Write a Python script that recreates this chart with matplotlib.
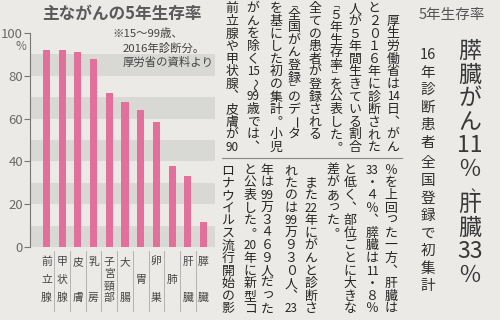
import matplotlib
matplotlib.use('Agg')
import matplotlib.pyplot as plt
import numpy as np
from matplotlib.transforms import blended_transform_factory

plt.rcParams['font.family'] = ['Noto Sans CJK JP', 'DejaVu Sans']

# ---- chart data ----
sites = ['前立腺', '甲状腺', '皮膚', '乳房', '子宮頸部', '大腸', '胃', '卵巣', '肺', '肝臓', '膵臓']
survival = [92.1, 91.9, 91.1, 88.0, 71.8, 67.8, 64.0, 58.3, 37.7, 33.4, 11.8]
yticks = [0, 20, 40, 60, 80, 100]
bands = [(0, 10), (20, 30), (40, 50), (60, 70), (80, 90)]
chart_title = '主ながんの5年生存率'
note_lines = ['※15～99歳、', '2016年診断分。', '厚労省の資料より']

# ---- article text (vertical columns, right to left) ----
kicker = '5年生存率'
headline = '膵臓がん11％、肝臓33％'
subhead = '16年診断患者 全国登録で初集計'
body_top = [
    '　厚生労働省は14日、がん',
    'と２０１６年に診断された',
    '人が５年間生きている割合',
    '「５年生存率」を公表した。',
    '全ての患者が登録される',
    '「全国がん登録」のデータ',
    'を基にした初の集計。小児',
    'がんを除く15～99歳では、',
    '前立腺や甲状腺、皮膚が90',
]
body_bottom = [
    '％を上回った一方、肝臓は',
    '33・４％、膵臓は11・８％',
    'と低く、部位ごとに大きな',
    '差があった。',
    '　また22年にがんと診断さ',
    'れたのは99万９３０人、23',
    '年は99万３４６９人だった',
    'と公表した。20年に新型コ',
    'ロナウイルス流行開始の影',
]

# layout (pixels)
top_x = [393, 374, 355, 336, 315, 294, 276, 253, 232]
bot_x = [391, 372, 350, 333, 311, 291, 267, 250, 228]

BG = '#ebeae7'
INK = '#252525'
SMALL = set('ぁぃぅぇぉっゃゅょァィゥェォッャュョ')
VERT = {'、': '\ufe11', '。': '\ufe12'}
BRACKETS = {'「': '\ufe41', '」': '\ufe42'}


def cells(s):
    out = []
    i = 0
    while i < len(s):
        if s[i].isascii() and s[i].isdigit():
            j = i
            while j < len(s) and s[j].isascii() and s[j].isdigit():
                j += 1
            out.append(s[i:j])
            i = j
        else:
            out.append(s[i])
            i += 1
    return out


def tate(ax, x, y0, s, size, pitch, color=INK, half_punct=False, tcy=0.9, **kw):
    y = y0
    for c in cells(s):
        if c == ' ':
            y += pitch * 0.2
            continue
        if c in BRACKETS:
            # brackets take half a cell
            step = pitch * 0.5
            ax.text(x, y + step / 2, BRACKETS[c], fontsize=size * 0.6, color=color,
                    ha='center', va='center', **kw)
            y += step
            continue
        step = pitch
        dx = dy = 0
        rot = 0
        fs = size
        if c in '、。' and half_punct:
            step = pitch * 0.5
            ax.text(x + pitch * 0.3, y + step * 0.55, '\u3001', fontsize=size * 0.55,
                    color=color, ha='center', va='center', **kw)
            y += step
            continue
        if c in SMALL:
            dx, dy = pitch * 0.08, -pitch * 0.08
        elif c in 'ー～':
            rot = -90
        elif len(c) > 1:
            fs = size * tcy
        ax.text(x + dx, y + step / 2 + dy, VERT.get(c, c), fontsize=fs, color=color,
                rotation=rot, ha='center', va='center', **kw)
        y += step


fig = plt.figure(figsize=(5, 3.2), dpi=100, facecolor=BG)

# ---- bar chart ----
ax = fig.add_axes([30 / 500, (320 - 247) / 320, 185 / 500, 214 / 320])
ax.set_facecolor('none')
x = np.arange(len(sites))
for lo, hi in bands:
    ax.axhspan(lo, hi, color='#d8d8d5', lw=0, zorder=0)
ax.bar(x, survival, width=0.45, color='#e3709a', zorder=2)
ax.set_xlim(-1.05, 10.73)
ax.set_ylim(0, 100)
ax.set_yticks(yticks)
ax.set_yticklabels([str(t) for t in yticks])
ax.tick_params(axis='y', length=4, width=0.8, color='#777777', labelcolor='#6a6a6a',
               labelsize=9.5, pad=1)
ax.set_xticks([])
for side in ['top', 'right', 'bottom']:
    ax.spines[side].set_visible(False)
ax.spines['left'].set_color('#777777')
ax.spines['left'].set_linewidth(0.8)

# overlay for all the text, in pixel coordinates
bg = fig.add_axes([0, 0, 1, 1])
bg.set_facecolor('none')
bg.set_xlim(0, 500)
bg.set_ylim(320, 0)
bg.axis('off')

bg.text(21, 46, '%', fontsize=8.5, color='#6a6a6a', ha='center', va='center')
bg.text(122, 14, chart_title, fontsize=12, color='#5a5a5a', fontweight='bold',
        ha='center', va='center')
bg.text(112, 34, note_lines[0], fontsize=8.2, color='#444444', ha='left', va='center')
bg.text(123, 48, note_lines[1], fontsize=8.2, color='#444444', ha='left', va='center')
bg.text(123, 62, note_lines[2], fontsize=8.2, color='#444444', ha='left', va='center')

# category labels in cells under the bars
trans = blended_transform_factory(ax.transData, bg.transData)
for i, name in enumerate(sites):
    n = len(name)
    ys = [280] if n == 1 else np.linspace(262, 298, n)
    for ch, yy in zip(name, ys):
        bg.text(i, yy, ch, transform=trans, fontsize=7.8, color='#444444',
                ha='center', va='center')
    if i < len(sites) - 1:
        bg.plot([i + 0.5, i + 0.5], [251, 311], transform=trans, color='#aaaaaa', lw=0.6)

# ---- article ----
bg.text(452, 15, kicker, fontsize=10.5, color='#555555', ha='center', va='center')
tate(bg, 470, 40, headline, 16.5, 23.5, color='#383838', half_punct=True, tcy=1.0)
tate(bg, 428, 46.25, subhead, 10.5, 17.5, color='#303030', tcy=1.0)
for cx, col in zip(top_x, body_top):
    tate(bg, cx, 2.5, col, 9.3, 12.6)
for cx, col in zip(bot_x, body_bottom):
    tate(bg, cx, 164, col, 9.3, 12.6)
bg.plot([222, 402], [157.5, 157.5], color='#888888', lw=0.8)

fig.savefig('out.png', dpi=100, facecolor=BG)
